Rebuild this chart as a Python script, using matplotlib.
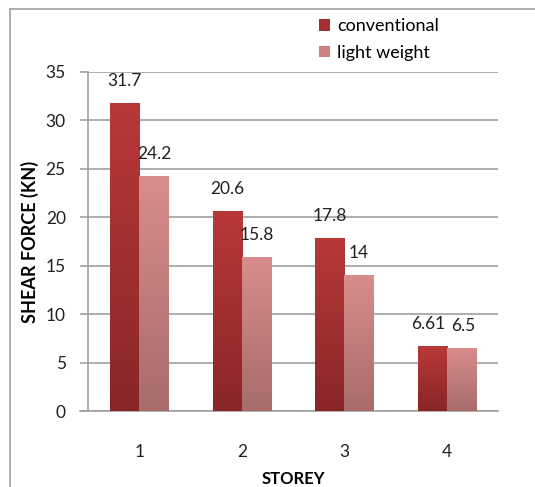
import matplotlib.pyplot as plt
import numpy as np
from matplotlib.patches import Rectangle, Patch
from matplotlib.colors import LinearSegmentedColormap

storeys = ["1", "2", "3", "4"]
conventional = [31.7, 20.6, 17.8, 6.61]
light_weight = [24.2, 15.8, 14, 6.5]

plt.rcParams["font.family"] = ["Lato", "DejaVu Sans"]

fig = plt.figure(figsize=(5.35, 4.87), dpi=100)
fig.patches.append(Rectangle((10/535, -0.1), 1.0, 1 - 9/487 + 0.1, transform=fig.transFigure,
                             fill=False, edgecolor="#a0a0a0", lw=1.2))
ax = fig.add_axes([88/535, 1 - 411/487, 410/535, 339/487])

x = np.arange(len(storeys))
w = 0.285
cm1 = LinearSegmentedColormap.from_list("c1", ["#8a2626", "#b83838"])
cm2 = LinearSegmentedColormap.from_list("c2", ["#a86c6c", "#d98c8c"])
grad = np.linspace(0, 1, 100).reshape(-1, 1)

for i in x:
    for val, off, cm in [(conventional[i], -w/2, cm1), (light_weight[i], w/2, cm2)]:
        ax.imshow(grad, extent=[i + off - w/2, i + off + w/2, 0, val], origin="lower",
                  cmap=cm, aspect="auto", zorder=3)

ax.bar(x - w/2, conventional, w, alpha=0)
ax.bar(x + w/2, light_weight, w, alpha=0)

for i in x:
    # last pair sits almost on top of each other in the original
    dx1, dx2 = (-0.04, 0.02) if i == 3 else (0, 0)
    ax.text(i - w/2 + dx1, conventional[i] + 1.5, f"{conventional[i]:g}", ha="center",
            va="bottom", fontsize=12.5, color="#202020", zorder=5)
    ax.text(i + w/2 + dx2, light_weight[i] + 1.5, f"{light_weight[i]:g}", ha="center",
            va="bottom", fontsize=12.5, color="#202020", zorder=5)

ax.set_xlim(-0.5, 3.5)
ax.set_ylim(0, 35)
ax.set_yticks(range(0, 36, 5))
ax.set_xticks(x)
ax.set_xticklabels(storeys)
ax.yaxis.grid(True, color="#a0a0a0", lw=1.2, zorder=0)
ax.set_axisbelow(True)
for s in ["top", "right", "bottom"]:
    ax.spines[s].set_visible(False)
ax.spines["left"].set_color("#a0a0a0")
ax.spines["left"].set_linewidth(1.2)
ax.tick_params(axis="y", length=6, color="#a0a0a0", width=1.2, labelsize=12.5,
               labelcolor="#202020", pad=10)
ax.tick_params(axis="x", length=0, labelsize=12.5, labelcolor="#202020", pad=24)
ax.axhline(0, color="#a0a0a0", lw=1.2, xmin=-0.02, clip_on=False)
ax.set_ylabel("SHEAR FORCE (KN)", fontsize=13, fontweight="bold", labelpad=5)
ax.set_xlabel("STOREY", fontsize=12, fontweight="bold", labelpad=8)

handles = [Patch(facecolor="#a33030"), Patch(facecolor="#cc8080")]
fig.legend(handles, ["conventional", "light weight"], loc="upper left",
           bbox_to_anchor=(303/535, 1 - 2/487), frameon=False, fontsize=13,
           handlelength=0.6, handleheight=0.6, handletextpad=0.4, labelspacing=0.6)

fig.savefig("out.png", dpi=100)
